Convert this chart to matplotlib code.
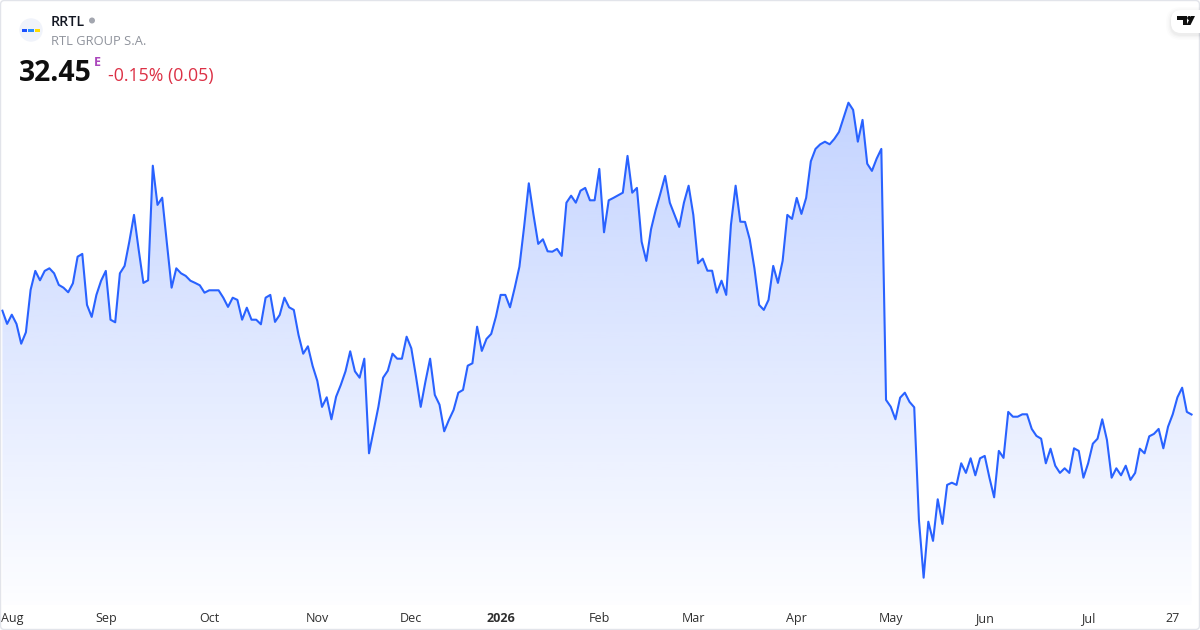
import matplotlib
matplotlib.use('Agg')
import matplotlib.pyplot as plt
import numpy as np
from matplotlib.patches import Circle, FancyBboxPatch, Polygon, Rectangle

plt.rcParams['font.family'] = ['Open Sans', 'DejaVu Sans']

# closing prices, one per trading day
price = [37.64, 36.98, 37.44, 36.98, 35.99, 36.56, 38.68, 39.63, 39.16, 39.63,
         39.76, 39.51, 38.93, 38.79, 38.56, 39.01, 40.34, 40.48, 37.93, 37.33,
         38.43, 39.14, 39.63, 37.19, 37.06, 39.51, 39.88, 41.09, 42.43, 40.68,
         39.03, 39.16, 44.89, 42.93, 43.29, 41.01, 38.79, 39.76, 39.51, 39.38,
         39.14, 39.03, 38.91, 38.54, 38.66, 38.66, 38.66, 38.29, 37.83, 38.29,
         38.18, 37.19, 37.79, 37.19, 37.19, 36.96, 38.29, 38.43, 37.08, 37.43,
         38.29, 37.81, 37.68, 36.43, 35.49, 35.86, 34.88, 34.13, 32.83, 33.31,
         32.21, 33.34, 33.93, 34.61, 35.61, 34.61, 34.29, 35.24, 30.51, 31.68,
         32.84, 34.29, 34.64, 35.49, 35.24, 35.24, 36.34, 35.76, 34.34, 32.83,
         34.09, 35.24, 33.43, 32.94, 31.61, 32.18, 32.68, 33.54, 33.68, 34.89,
         35.01, 36.84, 35.63, 36.23, 36.48, 37.34, 38.43, 38.43, 37.81, 38.78,
         39.84, 41.84, 44.01, 42.43, 40.98, 41.21, 40.61, 40.59, 40.73, 40.38,
         43.04, 43.39, 43.04, 43.64, 43.78, 43.16, 43.16, 44.73, 41.56, 43.16,
         43.28, 43.41, 43.54, 45.38, 43.54, 43.78, 41.09, 40.13, 41.71, 42.68,
         43.51, 44.38, 43.04, 42.43, 41.83, 43.04, 43.89, 42.43, 40.01, 40.24,
         39.64, 39.64, 38.54, 39.14, 38.43, 41.93, 43.89, 42.09, 42.08, 41.21,
         39.76, 37.93, 37.68, 38.18, 39.88, 39.03, 40.13, 42.43, 42.23, 43.28,
         42.48, 43.28, 45.11, 45.73, 45.96, 46.09, 45.96, 46.23, 46.58, 47.31,
         48.04, 47.68, 46.09, 47.18, 44.99, 44.63, 45.24, 45.73, 33.18, 32.84,
         32.21, 33.29, 33.54, 33.08, 32.81, 27.18, 24.29, 27.09, 26.13, 28.21,
         26.98, 28.93, 29.04, 28.93, 30.01, 29.53, 30.26, 29.41, 30.26, 30.38,
         29.29, 28.31, 30.63, 30.28, 32.58, 32.34, 32.34, 32.46, 32.46, 31.73,
         31.38, 31.24, 30.01, 30.74, 29.89, 29.53, 29.76, 29.53, 30.76, 30.63,
         29.29, 30.01, 30.99, 31.24, 32.21, 31.18, 29.29, 29.76, 29.41, 29.89,
         29.18, 29.53, 30.74, 30.51, 31.36, 31.48, 31.73, 30.76, 31.84, 32.46,
         33.31, 33.79, 32.58, 32.45]
tick_pos = [2, 22, 44, 67, 87, 106, 127, 147, 169, 189, 209, 231, 249]
tick_labels = ['Aug', 'Sep', 'Oct', 'Nov', 'Dec', '2026', 'Feb', 'Mar', 'Apr',
               'May', 'Jun', 'Jul', '27']

W, H = 1200, 630
BLUE = '#2962ff'
x = np.arange(len(price))
y_top, y_bot = 53.175, 22.925

fig = plt.figure(figsize=(W / 100, H / 100), dpi=100, facecolor='white')
ax = fig.add_axes([0, 25 / H, 1, 605 / H])

# area under the line: blue fading down to nothing
grad = np.zeros((256, 1, 4))
grad[:, 0, :3] = matplotlib.colors.to_rgb(BLUE)
grad[:, 0, 3] = np.linspace(0.28, 0.01, 256)
area = ax.fill_between(x, price, y_bot, color='none', lw=0)
im = ax.imshow(grad, extent=[x[0], x[-1], y_bot, max(price)], aspect='auto',
               origin='upper', zorder=1)
im.set_clip_path(area.get_paths()[0], transform=ax.transData)

ax.plot(x, price, color=BLUE, lw=1.5, solid_joinstyle='round', zorder=2)

ax.set_xlim(-0.51, 254.8)
ax.set_ylim(y_bot, y_top)
ax.set_yticks([])
ax.set_xticks(tick_pos)
ax.set_xticklabels(tick_labels, fontsize=9, color='#2f2f2f')
ax.tick_params(axis='x', length=0, pad=12)
for lab in ax.get_xticklabels():
    lab.set_verticalalignment('baseline')
ax.get_xticklabels()[5].set_fontweight('bold')
for s in ax.spines.values():
    s.set_visible(False)

# overlay in pixel coordinates for the header, logos and frame
top = fig.add_axes([0, 0, 1, 1], facecolor='none')
top.set_xlim(0, W)
top.set_ylim(H, 0)
top.axis('off')

top.add_patch(FancyBboxPatch((0.5, 0.5), W - 1, H - 1, boxstyle='round,pad=0,rounding_size=4',
                             fc='none', ec='#e2e4ea', lw=1))

top.add_patch(Circle((31, 30), 11.7, fc='#f0f3fa', ec='none'))
top.add_patch(Rectangle((21.7, 28.5), 5.6, 3, fc='#1a4fff', ec='none'))
top.add_patch(Rectangle((28.3, 28.5), 5.7, 3, fc='#2a8dff', ec='none'))
top.add_patch(Rectangle((35, 28.5), 5.4, 3, fc='#ffdd00', ec='none'))

top.text(51, 26, 'RRTL', fontsize=10.2, fontweight='semibold', color='#131722', va='baseline')
top.add_patch(Circle((92, 20.5), 3, fc='#a3a6af', ec='none'))
top.text(51, 45, 'RTL GROUP S.A.', fontsize=9.3, color='#8f939c', va='baseline')
top.text(18.5, 81, '32.45', fontsize=20.4, fontweight='bold', color='#0f0f0f', va='baseline')
top.text(93.5, 65.7, 'E', fontsize=9, fontweight='bold', color='#ab47bc', va='baseline')
top.text(108, 80.5, '-0.15% (0.05)', fontsize=12.75, color='#dc3045', va='baseline')

# tradingview badge, soft shadow under a white pill
for grow, alpha in [(5, 0.012), (3.5, 0.016), (2, 0.02), (1, 0.025)]:
    top.add_patch(FancyBboxPatch((1171 - grow, 10 - grow + 2), 60 + grow, 23 + 2 * grow,
                                 boxstyle='round,pad=0,rounding_size=%g' % (10 + grow),
                                 fc='black', ec='none', alpha=alpha))
top.add_patch(FancyBboxPatch((1171, 10), 60, 23, boxstyle='round,pad=0,rounding_size=10',
                             fc='white', ec='none'))
top.add_patch(Polygon([(1177, 16), (1187, 16), (1187, 25), (1182.5, 25), (1182.5, 20), (1177, 20)],
                      fc='#0f0f0f', ec='none'))
top.add_patch(Circle((1189.2, 18), 2, fc='#0f0f0f', ec='none'))
top.add_patch(Polygon([(1191, 16), (1195, 16), (1190.5, 25), (1186.5, 25)], fc='#0f0f0f', ec='none'))

fig.savefig('out.png', dpi=100, facecolor='white')
